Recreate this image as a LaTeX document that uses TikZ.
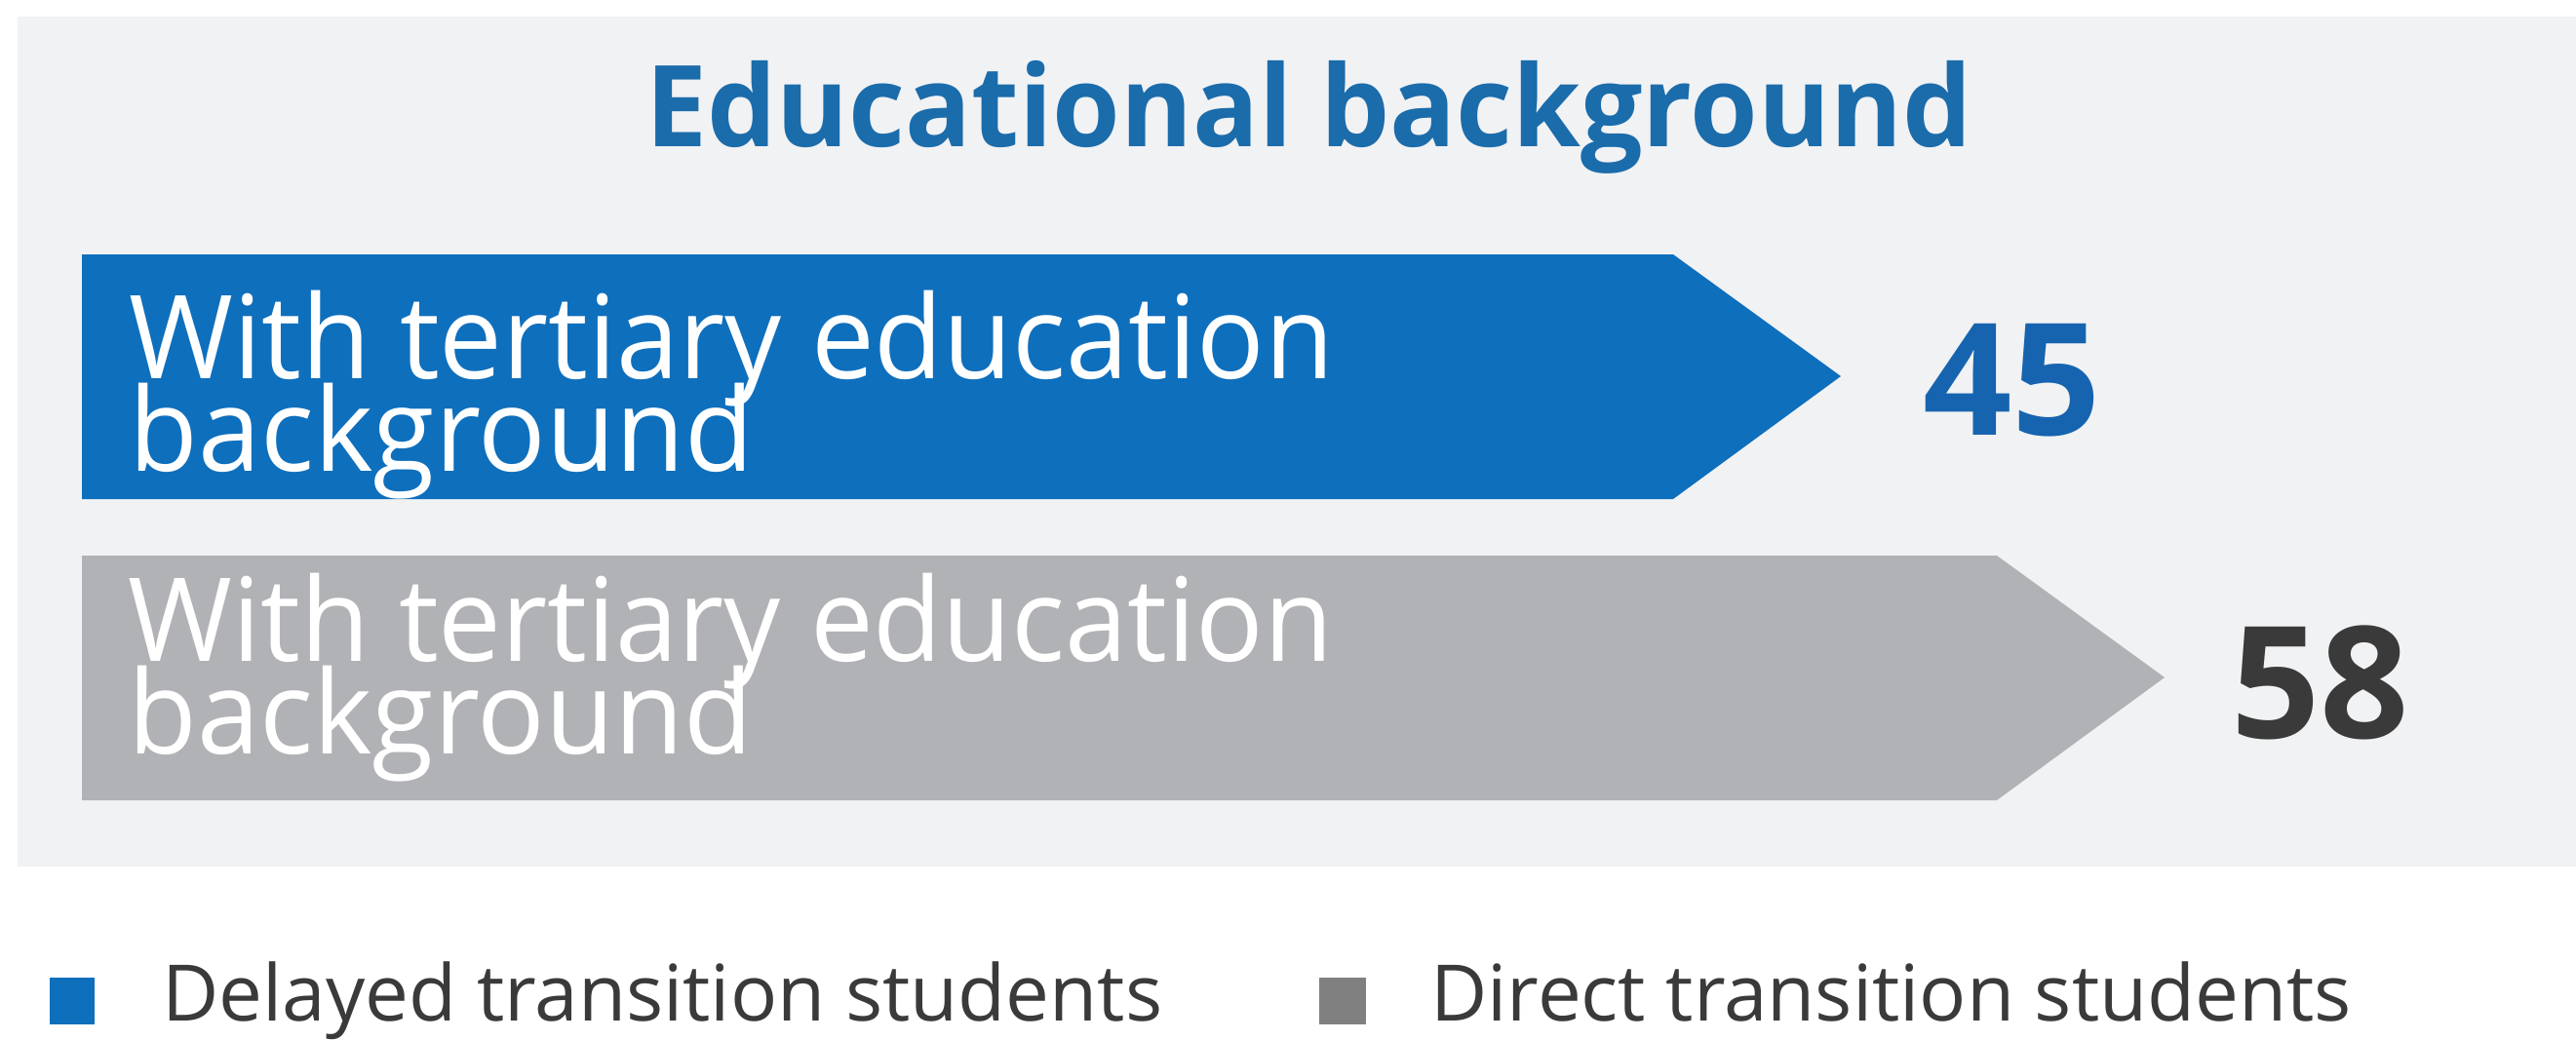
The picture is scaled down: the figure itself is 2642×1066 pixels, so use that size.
\documentclass[tikz,border=0pt]{standalone}
\usepackage{fontspec}
\setmainfont{Open Sans}
\newfontfamily\barfont[FakeStretch=0.97]{Open Sans}
\newfontfamily\titlefont[FakeStretch=0.97]{Open Sans}
\newfontfamily\legfont{Open Sans}
\definecolor{panelbg}{HTML}{F1F2F4}
\definecolor{barblue}{RGB}{14,111,189}
\definecolor{titleblue}{RGB}{27,108,171}
\definecolor{numblue}{RGB}{22,100,175}
\definecolor{bargray}{HTML}{B1B2B5}
\definecolor{darktext}{HTML}{3A3A3A}
\definecolor{leggray}{HTML}{808080}
\begin{document}
\begin{tikzpicture}[x=0.5pt,y=-0.5pt,
  bartext/.style={anchor=base west,inner sep=0,align=left,text=white,
    font={\barfont\fontsize{59.5}{47.5}\selectfont\lineskiplimit=-100pt}},
  numtext/.style={anchor=base west,inner sep=0,
    font={\legfont\bfseries\fontsize{80}{80}\selectfont}},
  legtext/.style={anchor=base west,inner sep=0,text=darktext,
    font={\legfont\fontsize{40}{44}\selectfont}}]
\useasboundingbox (0,0) rectangle (2642,1066);
\fill[white] (0,0) rectangle (2642,1066);
\fill[panelbg] (18,17) rectangle (2642,889);
\node[anchor=base west,inner sep=0,text=titleblue,
  font={\titlefont\bfseries\fontsize{58}{58}\selectfont}] (title) at (662,150) {Educational background};
% arrows
\fill[barblue] (84,261) -- (1716,261) -- (1888,386) -- (1716,512) -- (84,512) -- cycle;
\fill[bargray] (84,570) -- (2048,570) -- (2220,695) -- (2048,821) -- (84,821) -- cycle;
\node[bartext] (t1) at (132,483) {With tertiary education\\background};
\node[bartext] (t2) at (131,773) {With tertiary education\\background};
\node[numtext,text=numblue] (n1) at (1972,446) {45};
\node[numtext,text=darktext] (n2) at (2288,757) {58};
% legend
\fill[barblue] (51,1003) rectangle (97,1051);
\node[legtext] (l1) at (166,1047) {Delayed transition students};
\fill[leggray] (1353,1003) rectangle (1401,1051);
\node[legtext] (l2) at (1467,1047) {Direct transition students};
\end{tikzpicture}
\end{document}
